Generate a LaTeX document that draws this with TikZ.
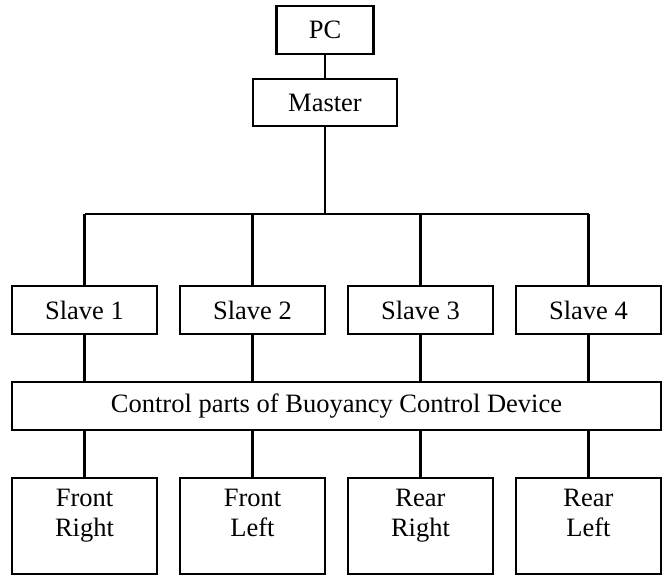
\documentclass[tikz,border=0pt]{standalone}
\usepackage{fontspec}
\setmainfont{Liberation Serif}
\begin{document}
\begin{tikzpicture}[x=1pt,y=-1pt,
  wire/.style={line width=2.6pt},
  box/.style={draw,line width=2.6pt,inner sep=0pt,font=\fontsize{26.5}{30}\selectfont},
  label/.style={inner sep=0pt,align=center,font=\fontsize{26.5}{30}\selectfont}]
  \useasboundingbox (0,0) rectangle (665,576);

  % top level
  \node[box,minimum width=97,minimum height=48] (pc) at (325,30) {PC};
  \node[box,minimum width=144,minimum height=47] (master) at (325,102.5) {Master};

  % slave controllers
  \node[box,minimum width=145,minimum height=48] (s1) at (84.5,310) {Slave 1};
  \node[box,minimum width=145,minimum height=48] (s2) at (252.5,310) {Slave 2};
  \node[box,minimum width=145,minimum height=48] (s3) at (420.5,310) {Slave 3};
  \node[box,minimum width=145,minimum height=48] (s4) at (588.5,310) {Slave 4};

  % shared control stage
  \node[box,minimum width=649,minimum height=48] (ctrl) at (336.5,406) {Control parts of Buoyancy Control Device};

  % actuator units
  \node[box,minimum width=145,minimum height=96] (fr) at (84.5,526) {};
  \node[box,minimum width=145,minimum height=96] (fl) at (252.5,526) {};
  \node[box,minimum width=145,minimum height=96] (rr) at (420.5,526) {};
  \node[box,minimum width=145,minimum height=96] (rl) at (588.5,526) {};
  \node[label] (frt) at (84.5,515) {\strut Front\\\strut Right};
  \node[label] (flt) at (252.5,515) {\strut Front\\\strut Left};
  \node[label] (rrt) at (420.5,515) {\strut Rear\\\strut Right};
  \node[label] (rlt) at (588.5,515) {\strut Rear\\\strut Left};

  % bus
  \coordinate (busL) at (84.5,214);
  \coordinate (busR) at (588.5,214);

  \draw[wire] (pc.south) -- (master.north);
  \draw[wire] (master.south) -- (master.south |- busL);
  \draw[wire] (busL) -- (busR);
  \foreach \s in {s1,s2,s3,s4}
    \draw[wire] (\s.north |- busL) -- (\s.north);
  \foreach \s in {s1,s2,s3,s4}
    \draw[wire] (\s.south) -- (\s.south |- ctrl.north);
  \foreach \b in {fr,fl,rr,rl}
    \draw[wire] (\b.north |- ctrl.south) -- (\b.north);
\end{tikzpicture}
\end{document}
